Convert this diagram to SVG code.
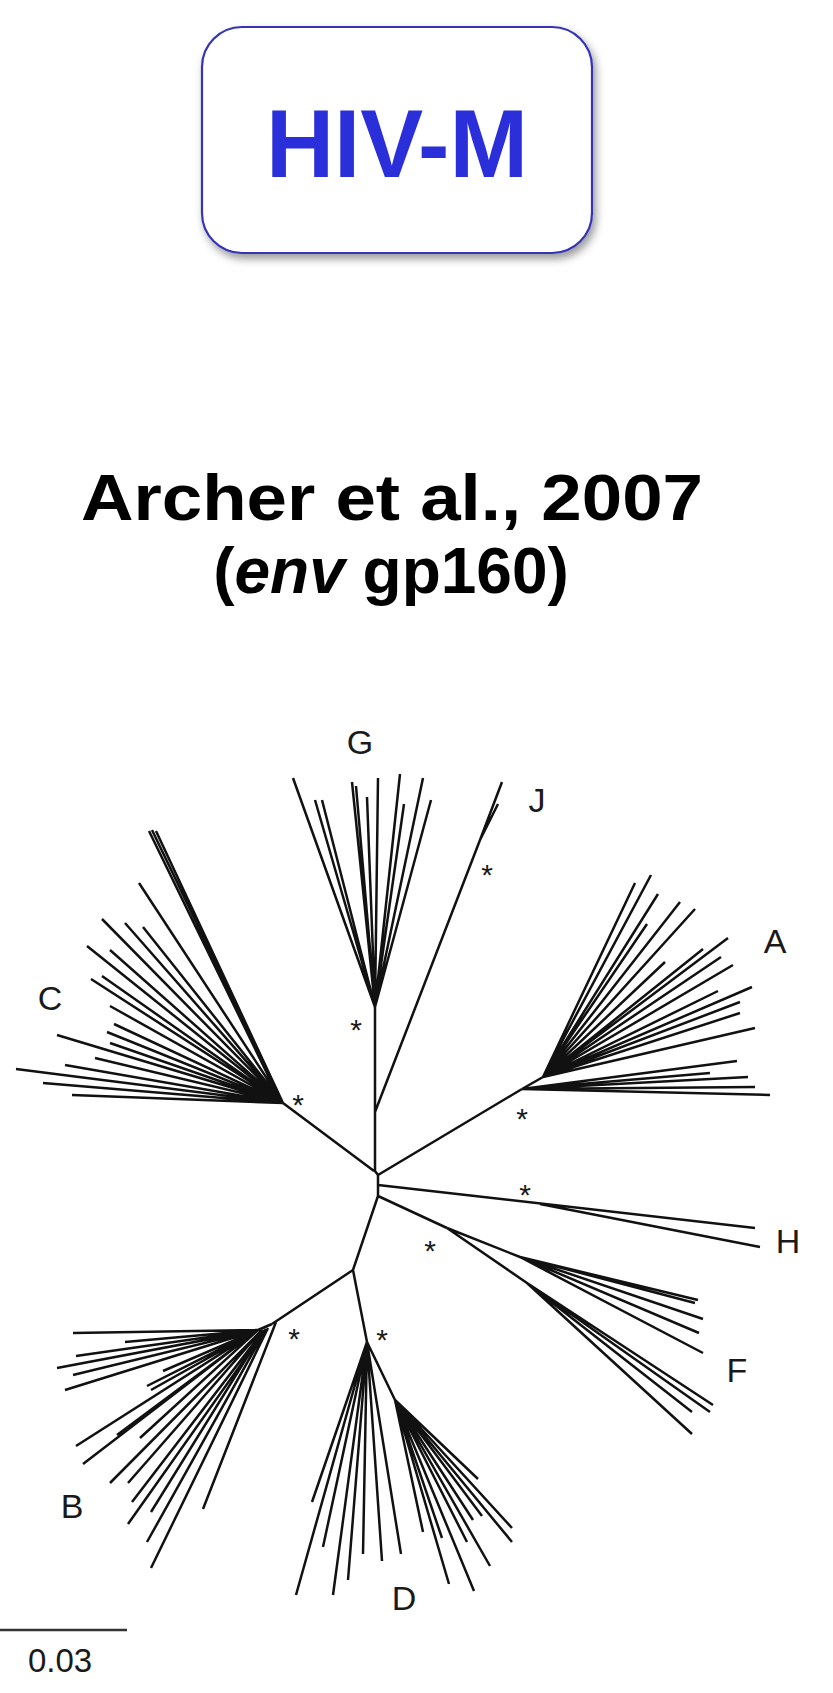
<svg xmlns="http://www.w3.org/2000/svg" width="833" height="1693" viewBox="0 0 833 1693">
<defs>
<filter id="sh" x="-10%" y="-10%" width="125%" height="130%">
<feDropShadow dx="3" dy="5" stdDeviation="4" flood-color="#000" flood-opacity="0.4"/>
</filter>
<style>
.br{fill:none;stroke:#111;stroke-width:2.5;stroke-linecap:butt}
.lab{font-family:"Liberation Sans",Arial,sans-serif;font-size:34px;fill:#1a1a1a;text-anchor:middle}
.ast{font-family:"Liberation Sans",Arial,sans-serif;font-size:30px;fill:#1a1a1a;text-anchor:middle}
.ttl{font-family:"Liberation Sans",Arial,sans-serif;font-weight:bold;font-size:64px;fill:#000;text-anchor:middle}
</style>
</defs>
<rect width="833" height="1693" fill="#fff"/>

<g id="hivm">
<rect x="202" y="27" width="390" height="226" rx="40" ry="40" fill="#fff" stroke="#3434b4" stroke-width="2.2" filter="url(#sh)"/>
<text x="397" y="177" font-family="Liberation Sans,Arial,sans-serif" font-weight="bold" font-size="97" fill="#2b2fd9" text-anchor="middle" textLength="262" lengthAdjust="spacingAndGlyphs">HIV-M</text>
</g>

<g id="title">
<text class="ttl" x="392" y="520" textLength="622" lengthAdjust="spacingAndGlyphs">Archer et al., 2007</text>
<text class="ttl" x="391" y="593"><tspan>(</tspan><tspan font-style="italic">env</tspan><tspan> gp160)</tspan></text>
</g>

<g id="connectors">
<path class="br" d="M375,1007 L375,1171 L378,1175 L378,1196
M375,1112 L480,840 L502,782 M480,840 L498,804
M374,1171 L283,1103
M378,1175 L522,1089
M378,1185 L755,1228 M540,1204 L760,1247
M378,1196 L447,1228
M378,1196 L353,1270 L272,1324
M353,1270 L367,1342"/>
</g>

<g id="clade-C">
<path class="br" d="M283,1103 L152,830 M283,1103 L156,831 M281,1102 L149,831
M283,1103 L139,883 M283,1103 L102,919 M283,1103 L125,923 M283,1103 L143,927
M283,1103 L87,946 M283,1103 L110,950 M283,1103 L91,979 M283,1103 L102,976
M283,1103 L110,1006 M283,1103 L114,1024 M283,1103 L107,1032 M283,1103 L110,1043
M283,1103 L57,1035 M283,1103 L95,1058 M283,1103 L65,1065 M283,1103 L16,1069
M283,1103 L43,1083 M283,1103 L72,1095"/>
<text class="lab" x="50" y="1010">C</text>
<text class="ast" x="298" y="1115">*</text>
</g>

<g id="clade-G">
<path class="br" d="M375,1007 L293,778 M375,1007 L315,800 M375,1007 L322,800 M375,1007 L352,782
M375,1007 L356,786 M375,1007 L367,797 M375,1007 L378,778 M375,1007 L400,774
M375,1007 L404,804 M375,1007 L423,778 M375,1007 L431,800"/>
<text class="lab" x="360" y="754">G</text>
<text class="ast" x="356" y="1040">*</text>
</g>

<g id="clade-J">
<text class="lab" x="537" y="812">J</text>
<text class="ast" x="487" y="885">*</text>
</g>

<g id="clade-A">
<path class="br" d="M522,1089 L543,1077
M543,1077 L635,883 M543,1077 L651,875 M543,1077 L658,894 M543,1077 L647,924
M543,1077 L680,902 M543,1077 L695,909 M543,1077 L665,962 M543,1077 L703,949
M543,1077 L728,938 M543,1077 L721,957 M543,1077 L733,965 M543,1077 L718,991
M543,1077 L752,987 M543,1077 L740,1002 M543,1077 L740,1013 M543,1077 L755,1028
M522,1089 L770,1095 M522,1089 L755,1087 M522,1089 L748,1077 M522,1089 L710,1073 M522,1089 L737,1061"/>
<text class="lab" x="775" y="953">A</text>
<text class="ast" x="522" y="1129">*</text>
</g>

<g id="clade-H">
<text class="lab" x="788" y="1253">H</text>
<text class="ast" x="525" y="1205">*</text>
</g>

<g id="clade-F">
<path class="br" d="M447,1228 L520,1257 L698,1300 M520,1257 L695,1303 M520,1257 L703,1319 M520,1257 L699,1333 M520,1257 L703,1353
M447,1228 L527,1283 L713,1405 M527,1283 L710,1412 M527,1283 L692,1412 M527,1283 L692,1434"/>
<text class="lab" x="737" y="1382">F</text>
<text class="ast" x="430" y="1261">*</text>
</g>

<g id="clade-B">
<path class="br" d="M272,1324 L258,1330
M258,1330 L73,1333 M258,1330 L125,1342 M258,1330 L76,1356 M258,1330 L57,1368
M258,1330 L73,1375 M258,1330 L65,1390 M258,1330 L163,1371 M258,1330 L147,1386
M258,1330 L151,1390 M258,1330 L76,1446 M258,1330 L83,1464 M258,1330 L117,1435
M258,1330 L140,1438 M262,1330 L110,1483 M262,1330 L128,1483 M264,1330 L132,1502
M264,1330 L151,1512 M266,1329 L128,1524 M266,1329 L147,1542 M268,1328 L151,1568
M276,1322 L203,1509"/>
<text class="lab" x="72" y="1518">B</text>
<text class="ast" x="294" y="1349">*</text>
</g>

<g id="clade-D">
<path class="br" d="M367,1342 L312,1502 M367,1342 L296,1595 M367,1342 L323,1547 M367,1342 L333,1595
M367,1342 L348,1580 M367,1342 L363,1554 M367,1342 L382,1561 M367,1342 L401,1554
M367,1342 L395,1400
M395,1400 L478,1479 M395,1400 L482,1516 M395,1400 L473,1520 M395,1400 L512,1528
M395,1400 L512,1542 M395,1400 L490,1566 M395,1400 L474,1591 M395,1400 L449,1584
M395,1400 L467,1542 M395,1400 L442,1538 M395,1400 L423,1532"/>
<text class="lab" x="404" y="1610">D</text>
<text class="ast" x="382" y="1350">*</text>
</g>

<g id="scale">
<line x1="0" y1="1630" x2="127" y2="1630" stroke="#333" stroke-width="2.5"/>
<text class="lab" x="60" y="1672" style="font-size:33px">0.03</text>
</g>
</svg>
